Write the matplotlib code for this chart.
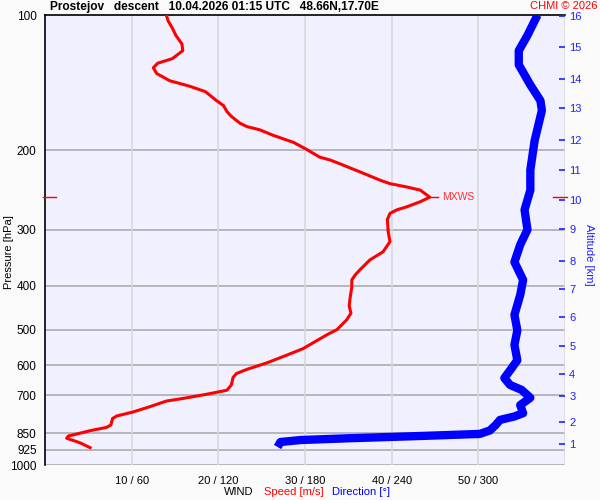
import matplotlib
matplotlib.use("Agg")
import matplotlib.pyplot as plt
import numpy as np

plt.rcParams['font.family'] = ['Liberation Sans', 'DejaVu Sans']

# Wind speed profile [m/s] vs pressure [hPa]
speed_ms = [5.2, 4.0, 3.1, 2.5, 2.7, 3.7, 5.2, 7.1, 7.6, 7.8, 8.3, 10.2, 12.1, 14.0, 16.0,
            18.7, 21.0, 21.5, 21.7, 22.1, 23.3, 25.6, 27.9, 29.4, 29.8, 32.5, 33.7, 34.8,
            35.3, 35.1, 35.2, 35.4, 35.4, 35.8, 36.3, 37.5, 39.0, 39.8, 39.6, 39.5, 39.8,
            40.6, 41.7, 43.3, 44.4, 43.3, 41.7, 39.8, 38.7, 36.3, 34.0, 32.9, 31.7, 30.2,
            28.7, 26.3, 24.8, 23.3, 22.5, 21.5, 21.0, 20.6, 19.8, 18.5, 16.7, 14.4, 12.9,
            12.5, 13.0, 14.7, 15.9, 15.8, 15.1, 14.7, 14.2, 14.0]
speed_p = [915, 892, 880, 872, 862, 853, 839, 825, 815, 788, 778, 762, 742, 721, 711,
           696, 682, 664, 639, 626, 613, 593, 570, 555, 551, 514, 500, 476,
           460, 443, 426, 402, 388, 378, 369, 350, 336, 319, 303, 285, 276,
           271, 267, 260, 254, 245, 241, 237, 233, 223, 214, 210, 207, 199,
           192, 185, 180, 177, 174, 168, 164, 159, 155, 148, 144, 140, 135,
           131, 128, 125, 120, 116, 111, 107, 103, 100]

# Wind direction profile [deg] vs pressure [hPa]
dir_deg = [161, 163, 177, 211, 260, 301, 308, 312, 315, 325, 331, 329, 336, 330, 322,
           318, 322, 327, 325, 327, 325, 329, 331, 325, 329, 334, 332, 336, 336, 339,
           344, 343, 336, 328, 328, 334, 339, 341]
dir_p = [912, 889, 880, 872, 862, 853, 838, 815, 794, 780, 767, 736, 709, 681, 664,
         641, 616, 585, 541, 502, 464, 419, 388, 354, 324, 300, 271, 245, 221, 190,
         163, 155, 143, 129, 120, 111, 103, 100]

# Max wind
mxws_speed = 44.4
mxws_p = 254

# Axes ticks
p_ticks = [100, 200, 300, 400, 500, 600, 700, 850, 925, 1000]
x_ticks_speed = [10, 20, 30, 40, 50]
x_tick_labels = ["10 / 60", "20 / 120", "30 / 180", "40 / 240", "50 / 300"]
alt_km = [1, 2, 3, 4, 5, 6, 7, 8, 9, 10, 11, 12, 13, 14, 15, 16]
alt_p = [898, 802, 702, 628, 544, 469, 406, 352, 299, 258, 221, 190, 161, 139, 118, 100.5]

fig = plt.figure(figsize=(6, 5), dpi=100, facecolor='#fafafa')
ax = fig.add_axes([45/600, 1-465/500, 520/600, 450/500])
ax.set_facecolor('#f0f0ff')
ax.set_yscale('log')
ax.set_ylim(1000, 100)
ax.set_xlim(0, 60)

# grid
for p in p_ticks[1:]:
    ax.axhline(p, color='#a8a8a8', lw=1.1, zorder=1)
for s in x_ticks_speed + [60]:
    ax.axvline(s, color='#d8d8d8', lw=1.1, zorder=1)

ax.set_yticks(p_ticks)
ax.set_yticklabels([str(p) for p in p_ticks], fontsize=8.5)
ax.yaxis.set_minor_locator(matplotlib.ticker.NullLocator())
ax.tick_params(axis='y', length=0, pad=6)
ax.set_xticks(x_ticks_speed)
ax.set_xticklabels(x_tick_labels, fontsize=8)
ax.tick_params(axis='x', length=0, pad=8)

for side in ['right', 'bottom']:
    ax.spines[side].set_visible(False)
ax.spines['left'].set_color('black')
ax.spines['top'].set_color('black')
ax.spines['left'].set_linewidth(1.2)
ax.spines['top'].set_linewidth(1.2)

ax.plot([d / 6 for d in dir_deg], dir_p, color='#0000ff', lw=6,
        solid_capstyle='butt', solid_joinstyle='round', zorder=3)
ax.plot(speed_ms, speed_p, color='#ff0000', lw=2.2, zorder=4)

# MXWS marker
ax.plot([mxws_speed, mxws_speed + 1.0], [mxws_p, mxws_p], color='#ff0000', lw=1, zorder=4)
ax.text(mxws_speed + 1.4, mxws_p, 'MXWS', color='#ff3030', fontsize=7.5,
        va='center', ha='left', zorder=5)
ax.plot([-0.25, 1.25], [mxws_p, mxws_p], color='#ff0000', lw=1, clip_on=False, zorder=5)
ax.plot([58.6, 60.2], [mxws_p, mxws_p], color='#ff0000', lw=1, clip_on=False, zorder=5)

fig.text(9/600, 1-252/500, 'Pressure [hPa]', fontsize=8, rotation=90,
         ha='center', va='center')

# altitude axis
ax2 = ax.twinx()
ax2.set_yscale('log')
ax2.set_ylim(1000, 100)
ax2.set_yticks(alt_p)
ax2.set_yticklabels([str(a) for a in alt_km], fontsize=8, color='#2020ff')
ax2.yaxis.set_minor_locator(matplotlib.ticker.NullLocator())
ax2.tick_params(axis='y', direction='in', length=4, width=1.2, color='#2020ff', pad=3)
for side in ['left', 'bottom', 'top', 'right']:
    ax2.spines[side].set_visible(False)
fig.text(589/600, 1-255/500, 'Altitude [km]', fontsize=8, rotation=270, color='#2020ff',
         ha='center', va='center')

fig.text(50/600, 1-7/500, 'Prostejov   descent   10.04.2026 01:15 UTC   48.66N,17.70E',
         fontsize=8.6, fontweight='bold', va='center', ha='left')
fig.text(597/600, 1-6/500, 'CHMI \u00a9 2026', fontsize=8, color='#ff0000',
         va='center', ha='right')

fig.text(253/600, 1-492/500, 'WIND', fontsize=8, ha='right', va='center')
fig.text(264/600, 1-492/500, 'Speed [m/s]', fontsize=8, ha='left', va='center', color='#ff0000')
fig.text(332/600, 1-492/500, 'Direction [\u00b0]', fontsize=8, ha='left', va='center', color='#0000ff')

fig.savefig('out.png', dpi=100, facecolor=fig.get_facecolor())
